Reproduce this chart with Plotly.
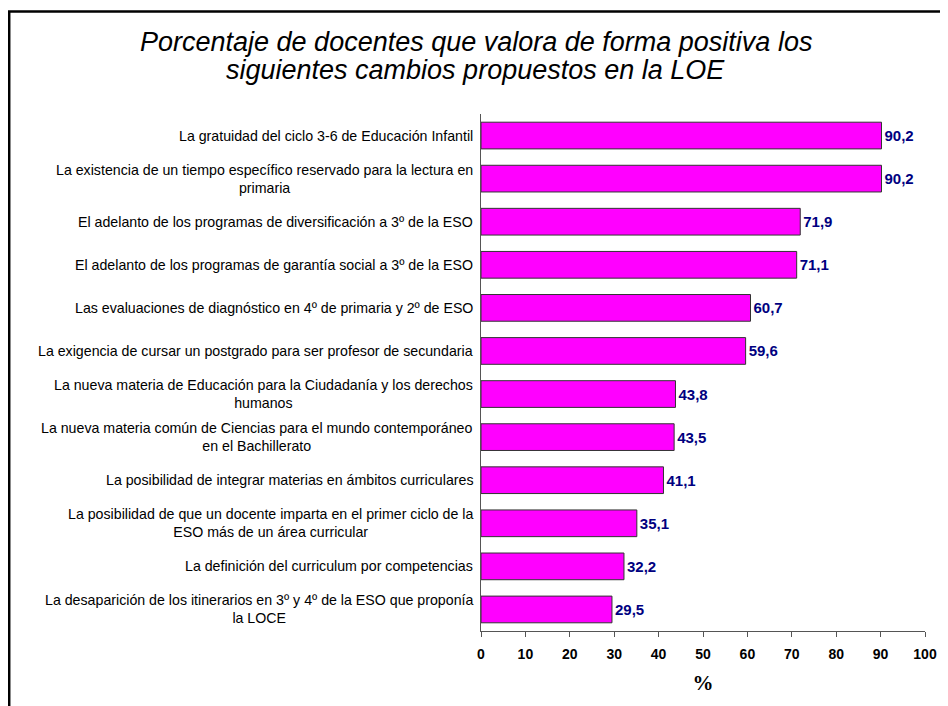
import plotly.graph_objects as go

# categories, top to bottom as in the chart
categorias = [
    "La gratuidad del ciclo 3-6 de Educación Infantil",
    "La existencia de un tiempo específico reservado para la lectura en<br>primaria",
    "El adelanto de los programas de diversificación a 3º de la ESO",
    "El adelanto de los programas de garantía social a 3º de la ESO",
    "Las evaluaciones de diagnóstico en 4º de primaria y 2º de ESO",
    "La exigencia de cursar un postgrado para ser profesor de secundaria",
    "La nueva materia de Educación para la Ciudadanía y los derechos<br>humanos",
    "La nueva materia común de Ciencias para el mundo contemporáneo<br>en el Bachillerato",
    "La posibilidad de integrar materias en ámbitos curriculares",
    "La posibilidad de que un docente imparta en el primer ciclo de la<br>ESO más de un área curricular",
    "La definición del curriculum por competencias",
    "La desaparición de los itinerarios en 3º y 4º de la ESO que proponía<br>la LOCE",
]
porcentajes = [90.2, 90.2, 71.9, 71.1, 60.7, 59.6, 43.8, 43.5, 41.1, 35.1, 32.2, 29.5]
ticks_x = [0, 10, 20, 30, 40, 50, 60, 70, 80, 90, 100]

titulo = [
    "Porcentaje de docentes que valora de forma positiva los",
    "siguientes cambios propuestos en la LOE",
]

ARIAL = "Arial, Liberation Sans, sans-serif"

fig = go.Figure()
fig.add_trace(go.Bar(
    x=porcentajes, y=categorias, orientation="h",
    marker=dict(color="#FF00FF", line=dict(color="#333333", width=1)),
    width=0.62,
    texttemplate="%{x:.1f}", textposition="outside", cliponaxis=False,
    textfont=dict(family=ARIAL, size=15, color="#000080", weight="bold"),
    hoverinfo="skip",
))

# category labels as annotations (centred lines, right edge next to the axis)
for cat in categorias:
    fig.add_annotation(
        x=0, y=cat, xref="x", yref="y",
        text=cat, showarrow=False, align="center",
        xanchor="right", xshift=-6, yanchor="middle",
        font=dict(family=ARIAL, size=14.2, color="black"),
    )

# title, two lines kept close together
for t, ty in zip(titulo, [1.139, 1.085]):
    fig.add_annotation(
        x=-0.0113, y=ty, xref="paper", yref="paper",
        text=t, showarrow=False, xanchor="center", yanchor="middle",
        font=dict(family=ARIAL, size=27, color="black", style="italic"),
    )

# outer frame
fig.add_shape(type="rect", xref="paper", yref="paper",
              x0=-1.0626, x1=1.2, y0=-0.3, y1=1.1983,
              line=dict(color="black", width=2.5), fillcolor="rgba(0,0,0,0)", layer="below")

fig.update_layout(
    width=948, height=706,
    margin=dict(l=473, r=31, t=106, b=83),
    paper_bgcolor="white", plot_bgcolor="white",
    separators=",.",
    showlegend=False,
    xaxis=dict(range=[0, 100], tickvals=ticks_x, showgrid=False, zeroline=False,
               showline=True, linecolor="#555555", linewidth=1,
               ticks="outside", ticklen=5, tickcolor="#555555", ticklabelstandoff=5,
               tickfont=dict(family=ARIAL, size=14, color="black", weight="bold"),
               title=dict(text="%", standoff=14,
                          font=dict(family="Liberation Serif, Times New Roman, serif", size=21,
                                    color="black", weight="bold"))),
    yaxis=dict(categoryorder="array", categoryarray=categorias[::-1],
               showticklabels=False, showgrid=False, zeroline=False,
               showline=True, linecolor="#555555", linewidth=1, ticks=""),
)

fig.write_html("out.html")
